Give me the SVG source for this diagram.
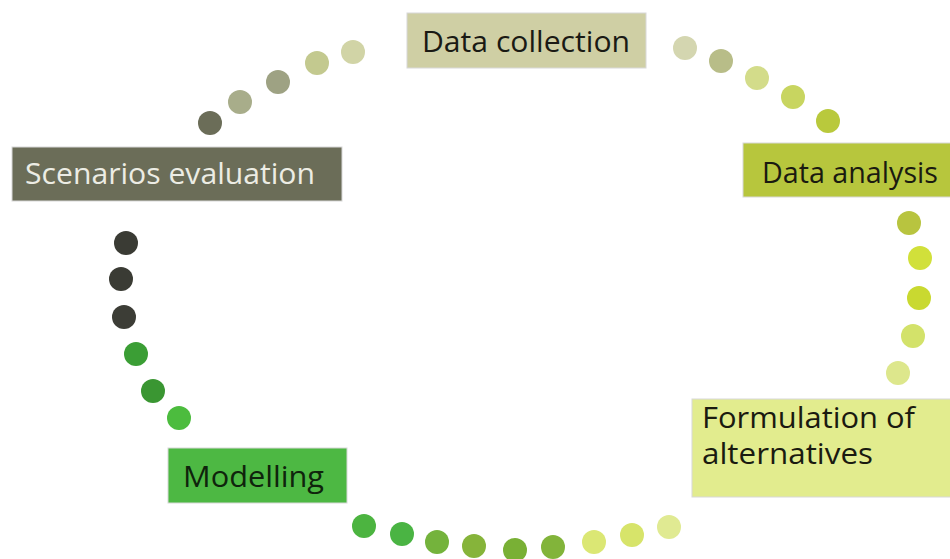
<svg xmlns="http://www.w3.org/2000/svg" width="950" height="559" viewBox="0 0 950 559">
<style>
.lbl{font-family:"Open Sans","Liberation Sans",sans-serif;font-size:28.5px;}
.box{stroke:#d8d8d8;stroke-width:1;}
</style>
<rect width="950" height="559" fill="#ffffff"/>
<g id="connectors">
<circle cx="210" cy="123" r="12" fill="#6b6d58"/>
<circle cx="240" cy="102" r="12" fill="#a8ad8a"/>
<circle cx="278" cy="82" r="12" fill="#9ea283"/>
<circle cx="317" cy="63" r="12" fill="#c3c98f"/>
<circle cx="353" cy="52" r="12" fill="#d1d4a6"/>
<circle cx="685" cy="48" r="12" fill="#d4d6b0"/>
<circle cx="721" cy="61" r="12" fill="#b8bd88"/>
<circle cx="757" cy="78" r="12" fill="#d3dc8a"/>
<circle cx="793" cy="97" r="12" fill="#c8d560"/>
<circle cx="828" cy="121" r="12" fill="#b9c93c"/>
<circle cx="909" cy="223" r="12" fill="#b8c43f"/>
<circle cx="920" cy="258" r="12" fill="#d1e03a"/>
<circle cx="919" cy="298" r="12" fill="#c9d930"/>
<circle cx="913" cy="336" r="12" fill="#d3e26a"/>
<circle cx="898" cy="373" r="12" fill="#dde78c"/>
<circle cx="669" cy="527" r="12" fill="#e0ea92"/>
<circle cx="632" cy="535" r="12" fill="#d7e46a"/>
<circle cx="594" cy="542" r="12" fill="#dbe774"/>
<circle cx="553" cy="547" r="12" fill="#82b43a"/>
<circle cx="515" cy="550" r="12" fill="#79b035"/>
<circle cx="474" cy="546" r="12" fill="#86b43a"/>
<circle cx="437" cy="542" r="12" fill="#74b33c"/>
<circle cx="402" cy="534" r="12" fill="#4ab443"/>
<circle cx="364" cy="526" r="12" fill="#4cb440"/>
<circle cx="179" cy="418" r="12" fill="#4cbc3e"/>
<circle cx="153" cy="391" r="12" fill="#3a9632"/>
<circle cx="136" cy="354" r="12" fill="#3b9e35"/>
<circle cx="124" cy="317" r="12" fill="#3c3d36"/>
<circle cx="121" cy="279" r="12" fill="#3a3b34"/>
<circle cx="126" cy="243" r="12" fill="#3a3b34"/>
</g>
<g id="data-collection">
<rect class="box" x="407" y="13" width="239" height="55" fill="#cfcfa4"/>
<text class="lbl" x="422" y="52" textLength="208" lengthAdjust="spacingAndGlyphs" fill="#1a1a14">Data collection</text>
</g>
<g id="data-analysis">
<rect class="box" x="743" y="143" width="210" height="54" fill="#b7c63d"/>
<text class="lbl" x="762" y="183" textLength="176" lengthAdjust="spacingAndGlyphs" fill="#1a1a10">Data analysis</text>
</g>
<g id="formulation">
<rect class="box" x="692" y="399" width="261" height="98" fill="#e2ec8e"/>
<text class="lbl" x="702" y="428" textLength="213" lengthAdjust="spacingAndGlyphs" fill="#1a1a10">Formulation of</text>
<text class="lbl" x="702" y="464" textLength="171" lengthAdjust="spacingAndGlyphs" fill="#1a1a10">alternatives</text>
</g>
<g id="modelling">
<rect class="box" x="168" y="448" width="179" height="55" fill="#4db843"/>
<text class="lbl" x="183" y="487" textLength="141" lengthAdjust="spacingAndGlyphs" fill="#0f240c">Modelling</text>
</g>
<g id="scenarios-evaluation">
<rect class="box" x="12" y="147" width="330" height="54" fill="#6b6d58"/>
<text class="lbl" x="25" y="184" textLength="290" lengthAdjust="spacingAndGlyphs" fill="#ecece4">Scenarios evaluation</text>
</g>
</svg>
